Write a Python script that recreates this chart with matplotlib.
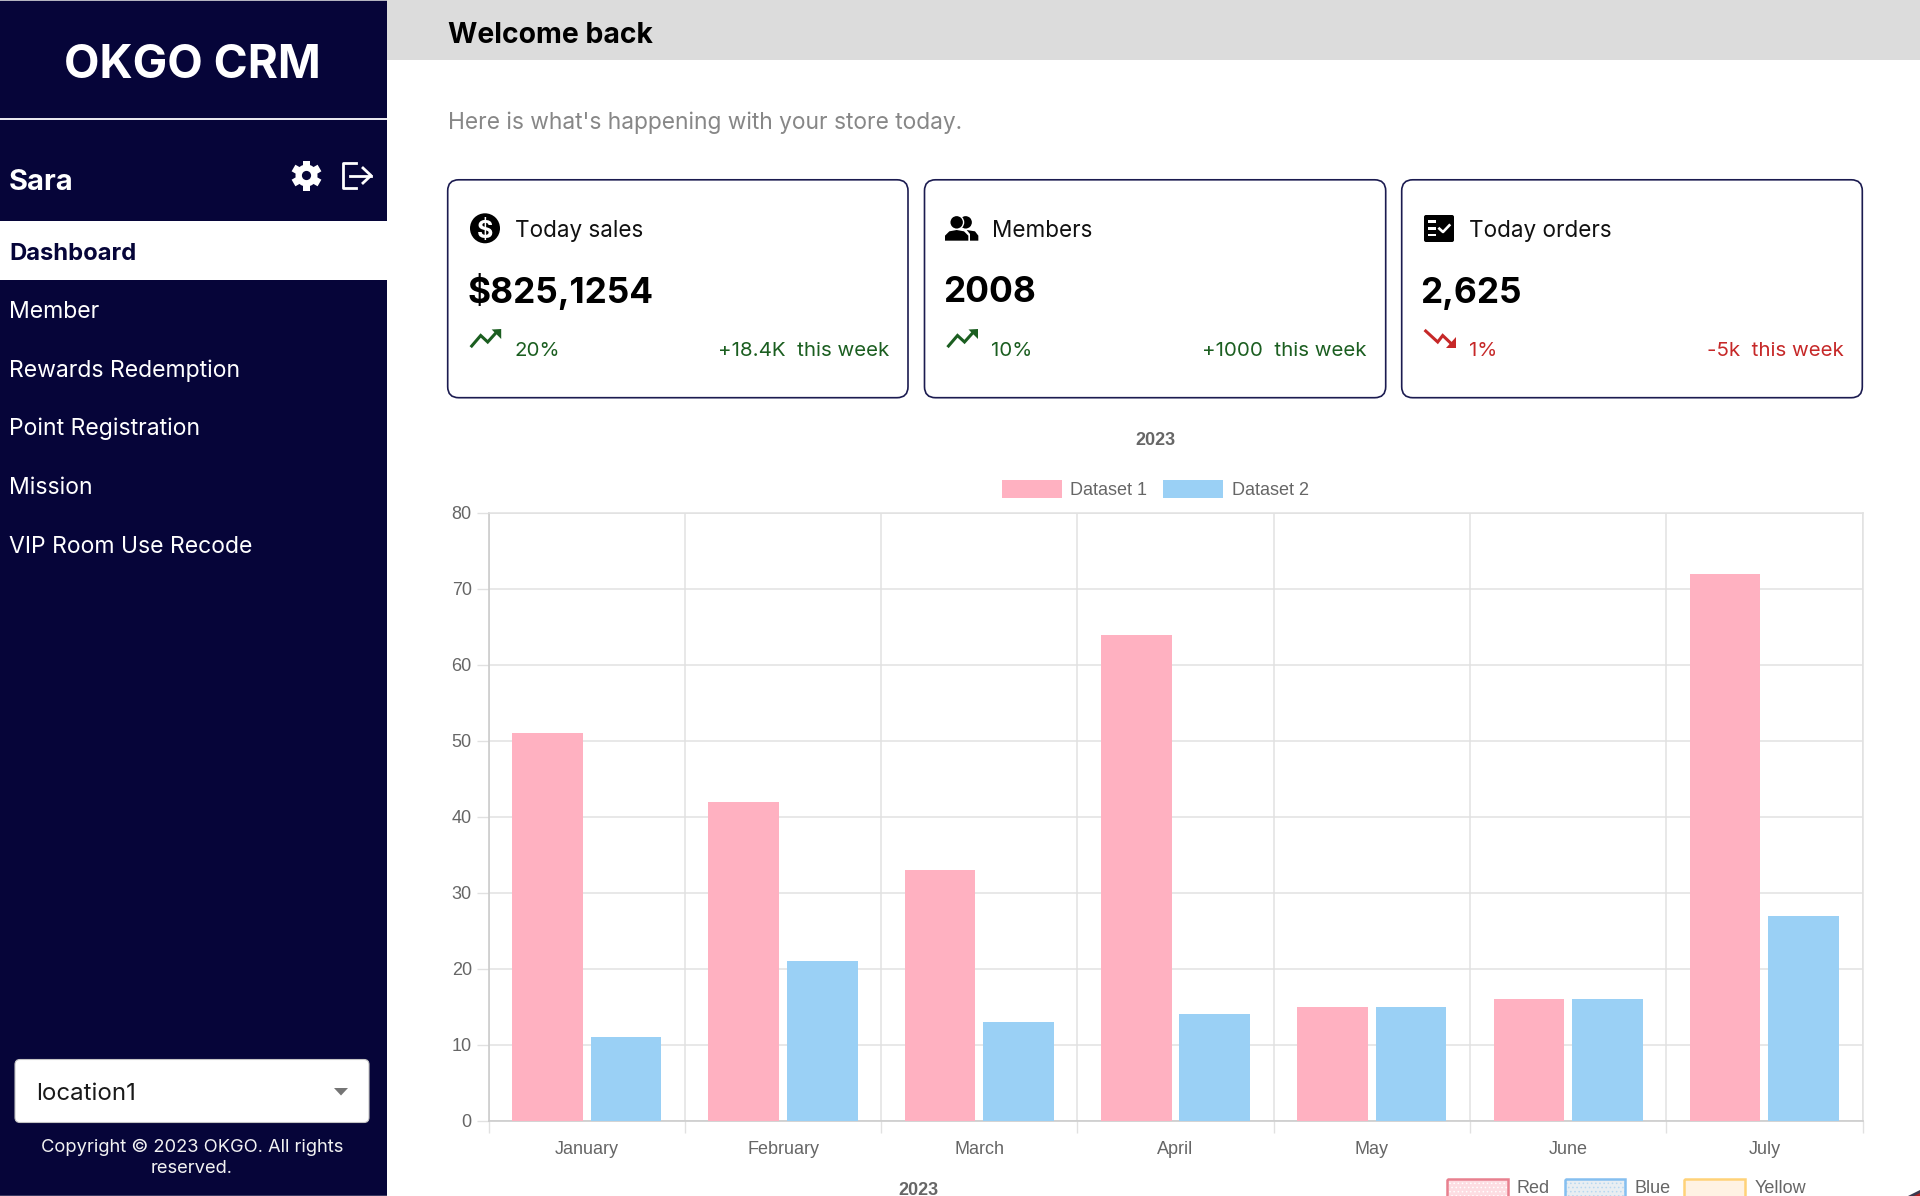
import matplotlib
matplotlib.use("Agg")
import matplotlib.pyplot as plt
from matplotlib.patches import Rectangle, FancyBboxPatch, Circle, Polygon
from matplotlib.lines import Line2D
from matplotlib.transforms import ScaledTranslation
import numpy as np

W, H = 1920, 1196
UI = ["Inter", "Liberation Sans", "DejaVu Sans"]
CH = ["Liberation Sans", "DejaVu Sans"]

# ---- data ----
months = ["January", "February", "March", "April", "May", "June", "July"]
dataset1 = [51, 42, 33, 64, 15, 16, 72]
dataset2 = [11, 21, 13, 14, 15, 16, 27]
yticks = [0, 10, 20, 30, 40, 50, 60, 70, 80]
menu_items = ["Member", "Rewards Redemption", "Point Registration", "Mission", "VIP Room Use Recode"]
card_titles = ["Today sales", "Members", "Today orders"]
card_values = ["$825,1254", "2008", "2,625"]
card_pcts = ["20%", "10%", "1%"]
card_weeks = ["+18.4K  this week", "+1000  this week", "-5k  this week"]
legend_bottom = ["Red", "Blue", "Yellow"]

NAVY = "#060539"
GREEN = "#1b5e20"
RED = "#c62828"
PINK = "#ffb1c1"
BLUE = "#9ad0f5"
GRID = "#e1e1e1"
TICK = "#666666"

plt.rcParams["hatch.linewidth"] = 0.6
fig = plt.figure(figsize=(W / 100, H / 100), dpi=100, facecolor="white")
ui = fig.add_axes([0, 0, 1, 1], zorder=0)
ui.set_xlim(0, W); ui.set_ylim(H, 0); ui.axis("off")


def T(x, y, s, px, color="black", weight="normal", ha="left", family=UI):
    return ui.text(x, y, s, fontsize=px * 0.72, color=color, fontweight=weight,
                   ha=ha, va="baseline", family=family, zorder=6)


def R(x0, y0, x1, y1, color, z=1):
    ui.add_patch(Rectangle((x0, y0), x1 - x0, y1 - y0, fc=color, ec="none", zorder=z))


def RR(x0, y0, x1, y1, r, fc, ec="none", lw=0, z=1):
    ui.add_patch(FancyBboxPatch((x0 + r, y0 + r), x1 - x0 - 2 * r, y1 - y0 - 2 * r,
                                boxstyle=f"round,pad={r},rounding_size={r}",
                                fc=fc, ec=ec, lw=lw, zorder=z))


# ---- sidebar and top bar ----
R(387, 0, W, 60, "#dcdcdc")
R(0, 0, 387, 1196, NAVY)
R(0, 0, 387, 1.2, "#b4b4c0", 2)
R(0, 1194.8, 387, 1196, "#3a3a62", 2)
R(0, 118, 387, 120, "#e8e8ee", 2)
R(0, 221, 387, 280, "white", 2)
T(192, 78.5, "OKGO CRM", 46, "white", "bold", "center")
T(9, 190, "Sara", 29, "white", "bold")
T(9, 260, "Dashboard", 23.8, NAVY, "bold")
for i, item in enumerate(menu_items):
    T(9, 317.7 + 58.8 * i, item, 23, "white")

# gear icon
gc = (306.5, 175.5)
for a in np.radians(np.arange(0, 360, 60) + 30):
    cx, cy = gc[0] + 11 * np.cos(a), gc[1] + 11 * np.sin(a)
    t = np.array([[-4, -3.8], [4, -3.8], [4, 3.8], [-4, 3.8]])
    rot = np.array([[np.cos(a), -np.sin(a)], [np.sin(a), np.cos(a)]])
    ui.add_patch(Polygon(t @ rot.T + [cx, cy], fc="white", ec="none", zorder=3))
ui.add_patch(Circle(gc, 11, fc="white", ec="none", zorder=3))
ui.add_patch(Circle(gc, 4.6, fc=NAVY, ec="none", zorder=4))

# logout icon
ui.add_line(Line2D([356, 343, 343, 356], [163, 163, 188, 188], color="white", lw=2.0, zorder=3))
ui.add_line(Line2D([350, 371], [175.5, 175.5], color="white", lw=2.0, zorder=3))
ui.add_line(Line2D([363, 371, 363], [168, 175.5, 183], color="white", lw=2.0, zorder=3))

# location select
RR(15, 1059.5, 369, 1122.5, 5, "white", "#c4c4c4", 0.8, 2)
T(36, 1100, "location1", 24, "#1a1a1a")
ui.add_patch(Polygon([[334, 1088], [348, 1088], [341, 1095.5]], fc="#757575", ec="none", zorder=3))
T(192, 1152, "Copyright © 2023 OKGO. All rights", 18.4, "#f2f2f2", ha="center")
T(192, 1173, "reserved.", 18.4, "#f2f2f2", ha="center")

# ---- top ----
T(448, 43, "Welcome back", 28.3, "black", "bold")
T(448, 129, "Here is what's happening with your store today.", 22.8, "#878787")

# ---- cards ----
card_x = [(447.7, 908), (924.5, 1385.7), (1401.7, 1862.3)]
value_dx = [20, 18.8, 18]
for i, (x0, x1) in enumerate(card_x):
    RR(x0, 179.8, x1, 397.7, 11, "white", "#1b1b50", 1.2, 2)
    c = RED if i == 2 else GREEN
    T(x0 + 67.3, 237, card_titles[i], 22.5, "#111111")
    T(x0 + value_dx[i], 302.5, card_values[i], 35.3, "black", "bold")
    T(x0 + 67, 356.3, card_pcts[i], 20.5, c)
    T(x1 - 19, 356.3, card_weeks[i], 20.5, c, ha="right")
    # trend icon
    ox = x0 + 24
    if i < 2:
        ui.add_line(Line2D(ox + np.array([0, 9, 16, 25]), [346, 335.5, 342, 332], color=c, lw=2.2,
                           zorder=3, solid_joinstyle="miter"))
        ui.add_patch(Polygon([[ox + 20, 329.5], [ox + 29.5, 329], [ox + 29.5, 339]], fc=c, ec="none", zorder=3))
    else:
        ui.add_line(Line2D(ox + np.array([0, 12, 17, 27]), [331, 342, 335.5, 345], color=c, lw=2.2,
                           zorder=3, solid_joinstyle="miter"))
        ui.add_patch(Polygon([[ox + 30, 337], [ox + 30, 348], [ox + 20, 348]], fc=c, ec="none", zorder=3))

# dollar icon
ui.add_patch(Circle((485, 228.3), 15, fc="black", ec="none", zorder=3))
T(485, 237.5, "$", 25, "white", "bold", "center")


# members icon (origin 920,170)
def mx(v): return 920 + v / 3
def my(v): return 170 + v / 3


ui.add_patch(Circle((mx(137), my(157)), 6.2, fc="black", ec="none", zorder=3))
ui.add_patch(Circle((mx(110), my(157)), 7.6, fc="white", ec="none", zorder=4))
ui.add_patch(Circle((mx(110), my(157)), 6.2, fc="black", ec="none", zorder=5))
ui.add_patch(Polygon([[mx(150), my(212)], [mx(175), my(212)], [mx(175), my(197)], [mx(165), my(184)],
                      [mx(140), my(180)], [mx(150), my(192)]], fc="black", ec="none", zorder=3))
ui.add_patch(Polygon([[mx(75), my(212)], [mx(145), my(212)], [mx(145), my(197)], [mx(132), my(184)],
                      [mx(110), my(180)], [mx(88), my(184)], [mx(75), my(197)]], fc="black", ec="none", zorder=4))


# orders icon (origin 1400,170)
def ox_(v): return 1400 + v / 3


RR(ox_(72), my(135), ox_(162), my(216), 2, "black", z=3)
for yy in (155, 175, 195):
    R(ox_(85), my(yy) - 1.4, ox_(108), my(yy) + 1.4, "white", 4)
ui.add_line(Line2D([ox_(118), ox_(129), ox_(148)], [my(176), my(186), my(166)], color="white", lw=1.9, zorder=4))

# ---- chart ----
px0, px1, py0, py1 = 488.6, 1862.5, 513, 1120.7
ax = fig.add_axes([px0 / W, 1 - py1 / H, (px1 - px0) / W, (py1 - py0) / H], zorder=2)
ax.patch.set_alpha(0)
ax.set_xlim(0, len(months)); ax.set_ylim(0, yticks[-1])
xc = np.arange(len(months)) + 0.5
ax.bar(xc - 0.2, dataset1, 0.36, color=PINK, zorder=3)
ax.bar(xc + 0.2, dataset2, 0.36, color=BLUE, zorder=3)
ax.set_yticks(yticks)
ax.set_xticks(np.arange(len(months) + 1))
ax.set_xticklabels([])
ax.set_xticks(xc, minor=True)
ax.set_xticklabels(months, minor=True, family=CH, fontsize=13, color=TICK)
ax.set_yticklabels([str(v) for v in yticks], family=CH, fontsize=13, color=TICK)
ax.tick_params(axis="x", which="minor", length=0, pad=14.9)
ax.tick_params(axis="both", which="major", length=8.6, width=1, color=GRID)
ax.tick_params(axis="y", which="major", pad=3.5)
ax.grid(True, which="major", color=GRID, lw=1.1, zorder=1)
ax.set_axisbelow(True)
shift = ScaledTranslation(0, 0.6 / 100, fig.dpi_scale_trans)
for lab in ax.get_yticklabels():
    lab.set_transform(lab.get_transform() + shift)
for s in ("top", "right"):
    ax.spines[s].set_color(GRID); ax.spines[s].set_linewidth(1.1)
for s in ("left", "bottom"):
    ax.spines[s].set_color("#cccccc"); ax.spines[s].set_linewidth(1.2)

# chart title + legend
T(1155, 445, "2023", 18, TICK, "bold", "center", CH)
R(1001.5, 480, 1061.5, 497.5, PINK)
T(1070.5, 495, "Dataset 1", 18, TICK, family=CH)
R(1163, 480, 1223, 497.5, BLUE)
T(1232, 495, "Dataset 2", 18, TICK, family=CH)

# second chart, cut off by the bottom edge
T(918, 1195, "2023", 18, TICK, "bold", "center", CH)
swatches = [(1447.4, "#e8808f", "#fddde2", "white", "....", 1517),
            (1564.5, "#85bff0", "#e9eef2", "#b8d8f0", "....", 1634),
            (1684, "#ffd278", "#fff2e3", "#fff2e3", None, 1754.6)]
for (sx, ec, fc, hc, hatch, tx), lab in zip(swatches, legend_bottom):
    ui.add_patch(Rectangle((sx, 1179), 60.5, 30, fc=fc, ec="none", zorder=2))
    if hatch:
        ui.add_patch(Rectangle((sx, 1179), 60.5, 30, fc="none", ec=hc, lw=0, hatch=hatch, zorder=2))
    ui.add_patch(Rectangle((sx, 1179), 60.5, 30, fc="none", ec=ec, lw=1.8, zorder=3))
    T(tx, 1193, lab, 18, TICK, family=CH)

# corner of the screenshot
ui.add_patch(Polygon([[1908, 1196], [1920, 1190], [1920, 1196]], fc="#3a3a50", ec="none", zorder=3))
ui.add_patch(Polygon([[1914, 1196], [1920, 1193], [1920, 1196]], fc="#b02020", ec="none", zorder=4))

fig.savefig("out.png", dpi=100, facecolor="white")
